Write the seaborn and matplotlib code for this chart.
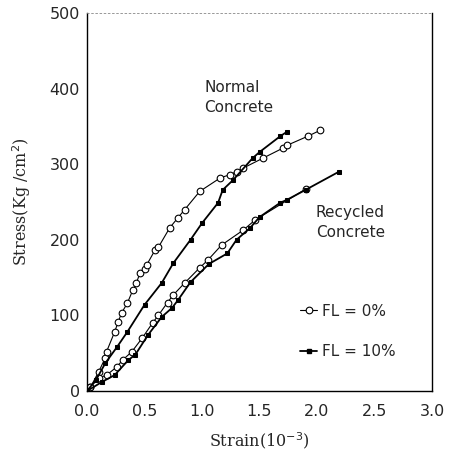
import matplotlib
matplotlib.use("Agg")
import matplotlib.pyplot as plt
import seaborn as sns
import pandas as pd
from matplotlib.lines import Line2D

# ---- data ----
normal_fl0_strain = [0.0, 0.03, 0.10, 0.16, 0.17, 0.24, 0.27, 0.30, 0.35, 0.40, 0.43, 0.46, 0.50,
                     0.52, 0.59, 0.62, 0.72, 0.79, 0.85, 0.98, 1.16, 1.24, 1.30, 1.36,
                     1.53, 1.70, 1.74, 1.92, 2.03]
normal_fl0_stress = [0, 5, 25, 44, 52, 78, 91, 103, 116, 134, 143, 156, 162,
                     167, 186, 190, 216, 229, 240, 264, 282, 286, 290, 295,
                     308, 321, 325, 337, 345]

normal_fl10_strain = [0.0, 0.08, 0.16, 0.26, 0.35, 0.50, 0.65, 0.75, 0.90, 1.00, 1.14,
                      1.18, 1.27, 1.44, 1.50, 1.68, 1.74]
normal_fl10_stress = [0, 15, 37, 58, 78, 114, 143, 169, 200, 222, 249,
                      266, 279, 308, 316, 337, 343]

recycled_fl0_strain = [0.0, 0.03, 0.10, 0.17, 0.26, 0.31, 0.39, 0.48, 0.57, 0.62, 0.70,
                       0.75, 0.85, 0.98, 1.05, 1.17, 1.36, 1.46, 1.90]
recycled_fl0_stress = [0, 5, 17, 21, 32, 41, 52, 70, 90, 100, 117,
                       127, 143, 163, 173, 193, 213, 226, 267]

recycled_fl10_strain = [0.0, 0.13, 0.24, 0.36, 0.42, 0.53, 0.65, 0.74, 0.79, 0.90, 1.06,
                        1.22, 1.30, 1.42, 1.50, 1.68, 1.74, 1.90, 2.19]
recycled_fl10_stress = [0, 12, 21, 41, 48, 74, 98, 110, 120, 144, 168,
                        182, 200, 216, 230, 249, 253, 266, 290]

x_ticks = [0.0, 0.5, 1.0, 1.5, 2.0, 2.5, 3.0]
x_tick_labels = ["0.0", "0.5", "1.0", "1.5", "2.0", "2.5", "3.0"]
y_ticks = [0, 100, 200, 300, 400, 500]
legend_labels = ["FL = 0%", "FL = 10%"]

sns.set_style("white")
plt.rcParams["font.family"] = ["DejaVu Sans"]

fig = plt.figure(figsize=(4.59, 4.5), dpi=100)
ax = fig.add_axes([87 / 459, 1 - 391 / 450, 345 / 459, 378 / 450])

open_kw = dict(marker="o", markersize=4.8, markerfacecolor="white",
               markeredgecolor="black", markeredgewidth=0.8, color="black", linewidth=0.8)
fill_kw = dict(marker="s", markersize=2.6, markerfacecolor="black",
               markeredgecolor="black", color="black", linewidth=1.3)

def draw(xs, ys, kw):
    df = pd.DataFrame({"strain": xs, "stress": ys})
    sns.lineplot(data=df, x="strain", y="stress", ax=ax, sort=False,
                 estimator=None, legend=False, **kw)

draw(normal_fl0_strain, normal_fl0_stress, open_kw)
draw(recycled_fl0_strain, recycled_fl0_stress, open_kw)
draw(normal_fl10_strain, normal_fl10_stress, fill_kw)
draw(recycled_fl10_strain, recycled_fl10_stress, fill_kw)

ax.set_xlim(0, 3.0)
ax.set_ylim(0, 500)
ax.set_xticks(x_ticks)
ax.set_xticklabels(x_tick_labels)
ax.set_yticks(y_ticks)
ax.set_xticks([0.25, 0.75, 1.25, 1.75, 2.25, 2.75], minor=True)
ax.tick_params(axis="both", which="both", direction="in", length=4, width=0.8,
               labelsize=11.5, color="black")
ax.tick_params(axis="y", length=0, pad=5)
ax.tick_params(axis="x", which="major", pad=9)
ax.tick_params(axis="x", which="minor", length=3)

for side in ["left", "bottom", "right"]:
    ax.spines[side].set_color("black")
    ax.spines[side].set_linewidth(1.0)
ax.spines["top"].set_color("#888888")
ax.spines["top"].set_linewidth(0.6)
ax.spines["top"].set_linestyle((0, (2, 3)))

ax.set_xlabel("Strain(10$^{-3}$)", family="DejaVu Serif", fontsize=11.5, labelpad=8)
ax.set_ylabel("Stress(Kg /cm$^{2}$)", family="DejaVu Serif", fontsize=11.5, labelpad=12)

ax.text(1.02, 388, "Normal\nConcrete", fontsize=11, ha="left", va="center", linespacing=1.45)
ax.text(1.99, 223, "Recycled\nConcrete", fontsize=11, ha="left", va="center", linespacing=1.45)

handles = [Line2D([], [], **open_kw), Line2D([], [], **fill_kw)]
ax.legend(handles, legend_labels, loc="upper left", bbox_to_anchor=(0.6, 0.247),
          frameon=False, fontsize=11, handlelength=1.1, handletextpad=0.3,
          labelspacing=1.65, borderaxespad=0)

fig.savefig("out.png", dpi=100)
